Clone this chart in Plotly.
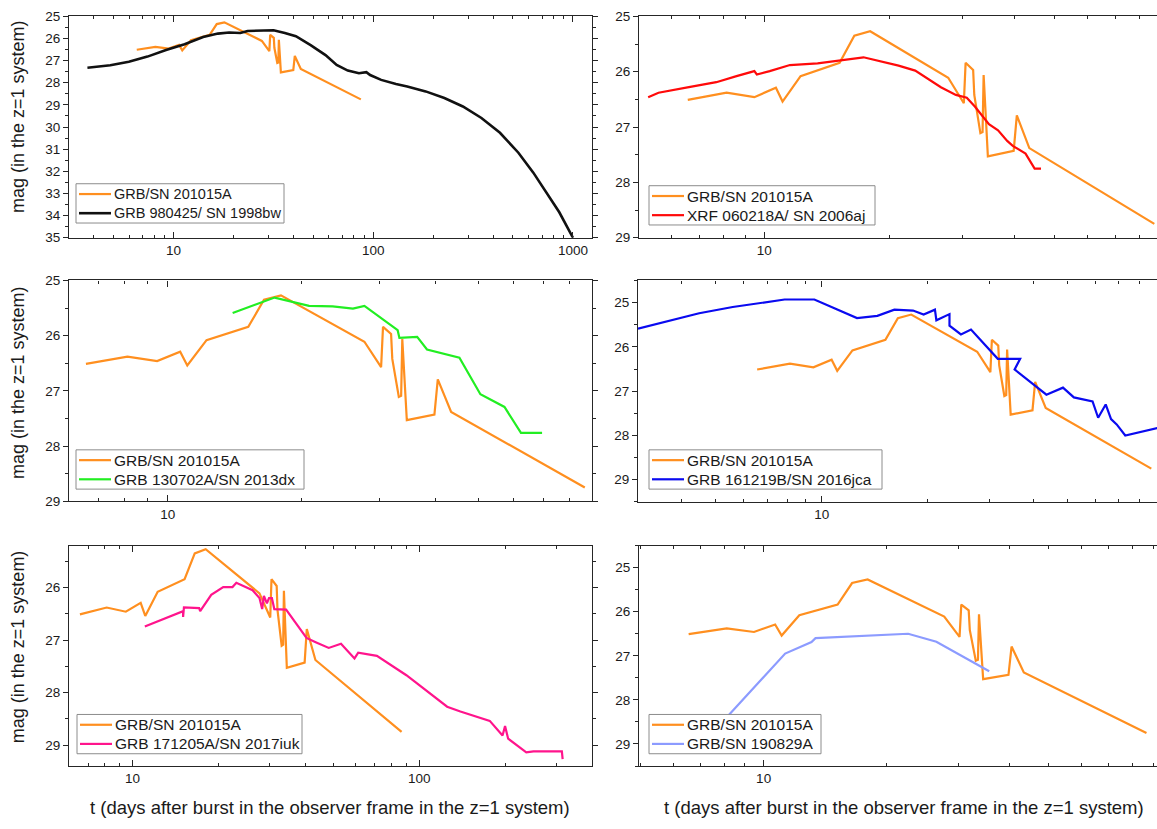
import math
import plotly.graph_objects as go

W, H = 1157, 829
FONT = "Liberation Sans, Arial, Helvetica, sans-serif"
TXT = "#1a1a1a"

# ---------------- light-curve data (t in days, observer frame, z=1) ----------------
# GRB/SN 201015A, repeated in every panel
t_201015A = [6.55, 8.12, 9.47, 10.67, 11.07, 12.23, 15.18, 16.47, 17.98, 27.7, 30.2, 30.5,
             31.8, 32.0, 33.1, 33.5, 33.7, 34.5, 39.8, 40.5, 43.4, 86.7]
mag_201015A = [26.51, 26.38, 26.46, 26.29, 26.54, 26.08, 25.84, 25.35, 25.27, 26.11, 26.57, 25.84,
               25.97, 26.42, 27.11, 27.09, 26.06, 27.53, 27.43, 26.79, 27.38, 28.75]

# GRB 980425 / SN 1998bw
t_1998bw = [3.71, 4.83, 5.98, 7.41, 9.18, 11.37, 14.08, 16.7, 19.0, 21.6, 23.5, 26.7, 31.7,
            36.1, 41.0, 48.6, 57.7, 65.6, 74.6, 84.8, 92.4, 96.5, 109.6, 130, 148, 183, 227,
            281, 348, 431, 533, 633, 751, 854, 1000]
mag_1998bw = [27.32, 27.21, 27.05, 26.82, 26.52, 26.26, 25.93, 25.78, 25.73, 25.75, 25.66, 25.66,
              25.63, 25.75, 25.90, 26.30, 26.75, 27.20, 27.45, 27.57, 27.52, 27.65, 27.87, 28.06,
              28.17, 28.39, 28.69, 29.07, 29.59, 30.26, 31.16, 32.06, 33.10, 33.85, 35.0]

# XRF 060218A / SN 2006aj
t_2006aj = [5.26, 5.57, 6.59, 7.67, 8.58, 9.47, 9.60, 10.31, 11.53, 13.44, 17.33, 21.04, 23.07,
            26.6, 28.9, 30.7, 32.1, 34.7, 36.5, 38.4, 39.6, 42.5, 44.7, 46.3]
mag_2006aj = [26.46, 26.38, 26.28, 26.19, 26.08, 25.99, 26.05, 25.99, 25.88, 25.85, 25.74, 25.89,
              25.98, 26.28, 26.42, 26.47, 26.63, 26.95, 27.06, 27.25, 27.34, 27.48, 27.75, 27.75]

# GRB 130702A / SN 2013dx
t_2013dx = [14.0, 17.4, 20.8, 23.5, 26.1, 27.7, 32.9, 33.2, 36.4, 38.3, 45.3, 50.5, 57.2, 62.3, 69.5]
mag_2013dx = [25.59, 25.31, 25.46, 25.47, 25.51, 25.46, 25.90, 26.04, 26.02, 26.25, 26.40, 27.06,
              27.29, 27.76, 27.76]

# GRB 161219B / SN 2016jca
t_2016jca = [3.0, 4.48, 5.58, 7.84, 9.53, 12.6, 14.4, 16.1, 18.2, 19.5, 21.0, 21.2, 23.1, 23.1,
             24.9, 26.6, 31.7, 36.7, 35.4, 43.6, 48.6, 52.2, 59.0, 61.2, 64.3, 66.6, 69.1, 73.1, 90.3]
mag_2016jca = [25.59, 25.24, 25.10, 24.93, 24.93, 25.35, 25.30, 25.16, 25.18, 25.27, 25.16, 25.40,
               25.26, 25.52, 25.72, 25.61, 26.27, 26.27, 26.51, 27.08, 26.92, 27.14, 27.23, 27.60,
               27.30, 27.63, 27.75, 28.00, 27.83]

# GRB 171205A / SN 2017iuk
t_2017iuk = [11.03, 12.87, 15.0, 15.0, 15.1, 17.06, 17.2, 18.8, 20.7, 22.3, 23.0, 26.2, 27.7, 28.3,
             28.7, 29.4, 29.9, 30.6, 31.2, 34.3, 40.4, 43.5, 48.3, 53.3, 59.4, 61.2, 71.1, 90.1,
             125, 139, 176, 195, 199, 204, 236, 250, 314, 316]
mag_2017iuk = [26.74, 26.60, 26.45, 26.56, 26.38, 26.39, 26.45, 26.14, 25.99, 25.99, 25.91, 26.05,
               26.20, 26.41, 26.16, 26.30, 26.20, 26.20, 26.41, 26.42, 26.96, 27.04, 27.15, 27.07,
               27.35, 27.24, 27.30, 27.67, 28.27, 28.36, 28.54, 28.82, 28.64, 28.88, 29.14, 29.12,
               29.12, 29.27]

# GRB/SN 190829A
t_190829A = [7.2, 8.28, 11.29, 13.1, 13.4, 22.6, 26.5, 35.7]
mag_190829A = [28.9, 28.31, 26.95, 26.69, 26.60, 26.50, 26.68, 27.35]

# ---------------- panel definitions ----------------
ORANGE = "#FF8F1F"
panels = [
    dict(name="GRB 980425/ SN 1998bw", t=t_1998bw, m=mag_1998bw, color="#111111", width=2.6,
         box=(69, 592, 9.5, 235), xr=(3, 1245), yr=(35, 25), ylab=list(range(25, 36)),
         leg=(76, 284, 180, 14.5), left=True),
    dict(name="XRF 060218A/ SN 2006aj", t=t_2006aj, m=mag_2006aj, color="#FF0A0A", width=2.2,
         box=(639, 1157, 9.5, 235), xr=(5, 88), yr=(29, 25), ylab=[25, 26, 27, 28, 29],
         leg=(649, 875, 182, 15.5), left=False),
    dict(name="GRB 130702A/SN 2013dx", t=t_2013dx, m=mag_2013dx, color="#22EE22", width=2.2,
         box=(69, 592, 278.5, 503.5), xr=(6, 90), yr=(29, 25), ylab=[25, 26, 27, 28, 29],
         leg=(76, 304, 451, 15.5), left=True),
    dict(name="GRB 161219B/SN 2016jca", t=t_2016jca, m=mag_2016jca, color="#0A0AF0", width=2.2,
         box=(638, 1157, 278.5, 504), xr=(3, 90), yr=(29.5, 24.5), ylab=[25, 26, 27, 28, 29],
         leg=(649, 882, 451, 15.5), left=False),
    dict(name="GRB 171205A/SN 2017iuk", t=t_2017iuk, m=mag_2017iuk, color="#FF148C", width=2.2,
         box=(69, 592, 548.5, 773), xr=(6, 400), yr=(29.4, 25.2), ylab=[26, 27, 28, 29],
         leg=(77, 302, 720.5, 15.5), left=True),
    dict(name="GRB/SN 190829A", t=t_190829A, m=mag_190829A, color="#8C9BFF", width=2.2,
         box=(639, 1157, 548.5, 773), xr=(4.95, 92), yr=(29.5, 24.5), ylab=[25, 26, 27, 28, 29],
         leg=(649, 821, 720.5, 15.5), left=False),
]


def log_ticks(lo, hi):
    major, minor = [], []
    for d in range(0, 4):
        for k in range(1, 10):
            v = k * 10 ** d
            if lo <= v <= hi:
                (major if k == 1 else minor).append(v)
    return major, minor


def frange(a, b, step):
    lo, hi = min(a, b), max(a, b)
    out, v = [], math.ceil(lo / step) * step
    while v <= hi + 1e-9:
        out.append(round(v, 3))
        v += step
    return out


def px(x):
    return x / W


def py(y):
    return 1 - y / H


fig = go.Figure()
layout = dict(
    width=W, height=H, margin=dict(l=0, r=0, t=0, b=0),
    paper_bgcolor="white", plot_bgcolor="white", showlegend=False,
    font=dict(family=FONT, size=14, color=TXT),
)
AX = "#262626"
shapes, annotations = [], []

for i, p in enumerate(panels, start=1):
    sfx = "" if i == 1 else str(i)
    xa, ya = "x" + sfx, "y" + sfx
    x0, x1, y0, y1 = p["box"]

    fig.add_trace(go.Scatter(x=t_201015A, y=mag_201015A, mode="lines", name="GRB/SN 201015A",
                             line=dict(color=ORANGE, width=2.2), xaxis=xa, yaxis=ya))
    fig.add_trace(go.Scatter(x=p["t"], y=p["m"], mode="lines", name=p["name"],
                             line=dict(color=p["color"], width=p["width"]), xaxis=xa, yaxis=ya))

    major, minor = log_ticks(*p["xr"])
    layout["xaxis" + sfx] = dict(
        type="log", domain=[px(x0), px(x1)], anchor=ya,
        range=[math.log10(p["xr"][0]), math.log10(p["xr"][1])],
        showline=True, linecolor=AX, linewidth=1.2, mirror="ticks",
        ticks="inside", ticklen=6, tickwidth=1.1, tickcolor=AX,
        tickmode="array", tickvals=major, ticktext=[str(v) for v in major],
        minor=dict(tickmode="array", tickvals=minor, ticks="inside", ticklen=3,
                   tickwidth=1, tickcolor=AX),
        showgrid=False, zeroline=False,
        tickfont=dict(family=FONT, size=13.5, color=TXT),
    )
    layout["yaxis" + sfx] = dict(
        domain=[py(y1), py(y0)], anchor=xa, range=list(p["yr"]),
        showline=True, linecolor=AX, linewidth=1.2, mirror="ticks" if p["left"] else False,
        ticks="outside", ticklen=5, tickwidth=1.1, tickcolor=AX,
        tickmode="array", tickvals=p["ylab"], ticktext=[str(v) for v in p["ylab"]],
        minor=dict(tickmode="array", tickvals=frange(p["yr"][0], p["yr"][1], 0.5),
                   ticks="outside", ticklen=3, tickwidth=1, tickcolor=AX),
        showgrid=False, zeroline=False,
        tickfont=dict(family=FONT, size=13.5, color=TXT),
    )

    # legend box: white panel with grey frame, two line samples and labels
    lx0, lx1, ltop, lfs = p["leg"]
    shapes.append(dict(type="rect", xref="paper", yref="paper",
                       x0=px(lx0), x1=px(lx1), y0=py(ltop + 40), y1=py(ltop),
                       fillcolor="white", line=dict(color="#8c8c8c", width=1), layer="above"))
    entries = [("GRB/SN 201015A", ORANGE, 2.2), (p["name"], p["color"], p["width"])]
    for k, (label, col, lw) in enumerate(entries):
        yrow = ltop + 10.5 + 19.5 * k
        shapes.append(dict(type="line", xref="paper", yref="paper",
                           x0=px(lx0 + 3), x1=px(lx0 + 35), y0=py(yrow), y1=py(yrow),
                           line=dict(color=col, width=lw), layer="above"))
        annotations.append(dict(text=label, x=px(lx0 + 36), y=py(yrow), xref="paper",
                                yref="paper", xanchor="left", yanchor="middle",
                                showarrow=False, font=dict(family=FONT, size=lfs, color=TXT)))

for yc in (112, 383, 652):
    annotations.append(dict(
        text="mag (in the z=1 system)", x=px(18), y=py(yc), xref="paper", yref="paper",
        xanchor="center", yanchor="middle", textangle=-90, showarrow=False,
        font=dict(family=FONT, size=18, color=TXT)))
for xc in (330, 904):
    annotations.append(dict(
        text="t (days after burst in the observer frame in the z=1 system)",
        x=px(xc), y=py(815), xref="paper", yref="paper",
        xanchor="center", yanchor="middle", showarrow=False,
        font=dict(family=FONT, size=18.5, color=TXT)))

layout["shapes"] = shapes
layout["annotations"] = annotations
fig.update_layout(**layout)
fig.write_html("out.html")
